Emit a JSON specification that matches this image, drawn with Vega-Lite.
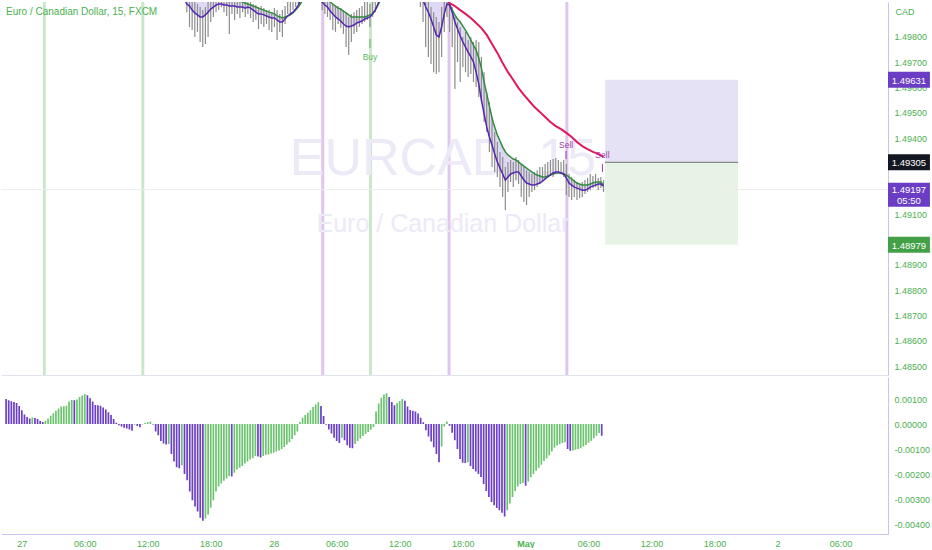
{
  "$schema": "https://vega.github.io/schema/vega-lite/v6.json",
  "padding": 0,
  "background": "white",
  "spacing": 0,
  "config": {"view": {"stroke": null}, "font": "Liberation Sans",
    "axis": {"grid": false, "labelOverlap": false, "labelBound": false, "ticks": false, "labelColor": "#4caf50", "domainColor": "#cbc3ef", "labelFontSize": 9}},
  "datasets": {
    "vlines": [
      {"i": 10.3, "k": "g"}, {"i": 47.4, "k": "g"}, {"i": 133.2, "k": "g"},
      {"i": 115.2, "k": "p"}, {"i": 162.8, "k": "p"}, {"i": 207.2, "k": "p"}
    ],
    "boxes": [
      {"i1": 221.6, "i2": 271.7, "p1": 1.49631, "p2": 1.49305, "k": "p"},
      {"i1": 221.6, "i2": 271.7, "p1": 1.49305, "p2": 1.48979, "k": "g"}
    ],
    "entry": [{"i1": 221.6, "i2": 271.7, "p": 1.49305}],
    "signals": [
      {"i": 133.0, "lab": "Buy", "p": 1.49721, "t1": 1.49792, "t2": 1.49756, "k": "b"},
      {"i": 206.9, "lab": "Sell", "p": 1.49373, "t1": 1.4935, "t2": 1.49318, "k": "s"},
      {"i": 220.6, "lab": "Sell", "p": 1.49334, "t1": 1.49298, "t2": 1.49267, "k": "s"}
    ],
    "tags": [
      {"p": 1.49631, "t": "1.49631", "k": "p"},
      {"p": 1.49305, "t": "1.49305", "k": "b"},
      {"p": 1.48979, "t": "1.48979", "k": "g"}
    ],
    "tag2": [{"p": 1.49197, "t": "1.49197", "t2": "05:50"}],
    "bars": [
      {"i":64,"h":1.49978,"l":1.49898},{"i":65,"h":1.49958,"l":1.49839},{"i":66,"h":1.49958,"l":1.49827},
      {"i":67,"h":1.49938,"l":1.498},{"i":68,"h":1.4993,"l":1.4982},{"i":69,"h":1.49918,"l":1.4978},
      {"i":70,"h":1.49906,"l":1.4976},{"i":71,"h":1.49918,"l":1.49772},{"i":72,"h":1.49946,"l":1.498},
      {"i":73,"h":1.49958,"l":1.49859},{"i":74,"h":1.4997,"l":1.49879},{"i":75,"h":1.4997,"l":1.49898},
      {"i":76,"h":1.49978,"l":1.49906},{"i":77,"h":1.49978,"l":1.49918},{"i":78,"h":1.49962,"l":1.49898},
      {"i":79,"h":1.49958,"l":1.49883},{"i":80,"h":1.49946,"l":1.49812},{"i":81,"h":1.4995,"l":1.49891},
      {"i":82,"h":1.49946,"l":1.49867},{"i":83,"h":1.49954,"l":1.49891},{"i":84,"h":1.49946,"l":1.49875},
      {"i":85,"h":1.49938,"l":1.49898},{"i":86,"h":1.49946,"l":1.49879},{"i":87,"h":1.49938,"l":1.49891},
      {"i":88,"h":1.49938,"l":1.49875},{"i":89,"h":1.4993,"l":1.49859},{"i":90,"h":1.49926,"l":1.49867},
      {"i":91,"h":1.49918,"l":1.49831},{"i":92,"h":1.49922,"l":1.49851},{"i":93,"h":1.49914,"l":1.49839},
      {"i":94,"h":1.49906,"l":1.49851},{"i":95,"h":1.49906,"l":1.49827},{"i":96,"h":1.49898,"l":1.4982},
      {"i":97,"h":1.49914,"l":1.49839},{"i":98,"h":1.49906,"l":1.49788},{"i":99,"h":1.49891,"l":1.4982},
      {"i":100,"h":1.49906,"l":1.498},{"i":101,"h":1.49922,"l":1.49851},{"i":102,"h":1.49938,"l":1.49891},
      {"i":103,"h":1.4995,"l":1.49891},{"i":104,"h":1.49962,"l":1.49906},{"i":105,"h":1.4997,"l":1.49918},
      {"i":106,"h":1.49985,"l":1.4993},
      {"i":115,"h":1.49978,"l":1.49906},{"i":116,"h":1.49958,"l":1.49891},{"i":117,"h":1.49946,"l":1.49879},
      {"i":118,"h":1.49938,"l":1.49867},{"i":119,"h":1.4993,"l":1.49827},{"i":120,"h":1.49918,"l":1.4982},
      {"i":121,"h":1.49922,"l":1.49851},{"i":122,"h":1.49914,"l":1.49835},{"i":123,"h":1.49906,"l":1.49812},
      {"i":124,"h":1.49898,"l":1.4976},{"i":125,"h":1.49879,"l":1.49729},{"i":126,"h":1.49891,"l":1.4978},
      {"i":127,"h":1.49898,"l":1.49812},{"i":128,"h":1.49906,"l":1.4982},{"i":129,"h":1.49914,"l":1.49839},
      {"i":130,"h":1.49922,"l":1.49851},{"i":131,"h":1.49938,"l":1.49859},{"i":132,"h":1.49946,"l":1.49867},
      {"i":133,"h":1.4993,"l":1.49839},{"i":134,"h":1.49958,"l":1.49879},{"i":135,"h":1.49978,"l":1.49898},
      {"i":152,"h":1.49997,"l":1.49918},{"i":153,"h":1.49978,"l":1.49859},{"i":154,"h":1.49958,"l":1.4976},
      {"i":155,"h":1.49938,"l":1.49721},{"i":156,"h":1.49918,"l":1.49693},{"i":157,"h":1.49898,"l":1.49661},
      {"i":158,"h":1.49879,"l":1.49654},{"i":159,"h":1.49859,"l":1.49661},{"i":160,"h":1.49918,"l":1.49721},
      {"i":161,"h":1.49958,"l":1.4982},{"i":162,"h":1.49978,"l":1.49879},{"i":163,"h":1.49958,"l":1.4982},
      {"i":164,"h":1.49918,"l":1.4976},{"i":165,"h":1.49879,"l":1.49594},{"i":166,"h":1.49859,"l":1.49701},
      {"i":167,"h":1.49839,"l":1.49622},{"i":168,"h":1.498,"l":1.49681},{"i":169,"h":1.4982,"l":1.49661},
      {"i":170,"h":1.49788,"l":1.49642},{"i":171,"h":1.498,"l":1.49654},{"i":172,"h":1.4978,"l":1.49622},
      {"i":173,"h":1.49788,"l":1.49602},{"i":174,"h":1.4978,"l":1.49563},{"i":175,"h":1.49721,"l":1.49543},
      {"i":176,"h":1.49661,"l":1.49464},{"i":177,"h":1.49583,"l":1.49425},{"i":178,"h":1.49543,"l":1.49346},
      {"i":179,"h":1.49484,"l":1.49286},{"i":180,"h":1.49425,"l":1.49267},{"i":181,"h":1.49385,"l":1.49247},
      {"i":182,"h":1.49346,"l":1.49207},{"i":183,"h":1.49326,"l":1.49168},{"i":184,"h":1.49286,"l":1.49116},
      {"i":185,"h":1.49306,"l":1.49188},{"i":186,"h":1.49314,"l":1.49227},{"i":187,"h":1.49306,"l":1.49207},
      {"i":188,"h":1.49326,"l":1.49235},{"i":189,"h":1.49314,"l":1.49219},{"i":190,"h":1.49298,"l":1.49168},
      {"i":191,"h":1.49286,"l":1.49148},{"i":192,"h":1.49274,"l":1.49136},{"i":193,"h":1.49267,"l":1.49168},
      {"i":194,"h":1.49259,"l":1.49188},{"i":195,"h":1.49267,"l":1.49195},{"i":196,"h":1.49274,"l":1.49207},
      {"i":197,"h":1.49286,"l":1.49219},{"i":198,"h":1.49286,"l":1.49227},{"i":199,"h":1.49298,"l":1.49235},
      {"i":200,"h":1.49306,"l":1.49247},{"i":201,"h":1.49314,"l":1.49259},{"i":202,"h":1.49318,"l":1.49247},
      {"i":203,"h":1.49322,"l":1.49259},{"i":204,"h":1.49314,"l":1.49267},{"i":205,"h":1.49306,"l":1.49259},
      {"i":206,"h":1.49314,"l":1.49247},{"i":207,"h":1.49298,"l":1.49176},{"i":208,"h":1.49259,"l":1.49168},
      {"i":209,"h":1.49247,"l":1.49156},{"i":210,"h":1.49235,"l":1.49168},{"i":211,"h":1.49227,"l":1.49156},
      {"i":212,"h":1.49219,"l":1.49164},{"i":213,"h":1.49227,"l":1.49168},{"i":214,"h":1.49235,"l":1.4918},
      {"i":215,"h":1.49243,"l":1.49188},{"i":216,"h":1.49259,"l":1.49195},{"i":217,"h":1.49251,"l":1.49203},
      {"i":218,"h":1.49259,"l":1.49207},{"i":219,"h":1.49243,"l":1.49195},{"i":220,"h":1.49247,"l":1.49203},
      {"i":221,"h":1.49235,"l":1.49188}
    ],
    "ma": [
      {"i":60,"f":1.50017,"s":1.50096},{"i":64,"f":1.4993,"s":1.49997},{"i":65,"f":1.49922,"s":1.49993},
      {"i":66,"f":1.49906,"s":1.49985},{"i":67,"f":1.49895,"s":1.49981},{"i":68,"f":1.49887,"s":1.49978},
      {"i":69,"f":1.49879,"s":1.49978},{"i":70,"f":1.49879,"s":1.49974},{"i":71,"f":1.49887,"s":1.49974},
      {"i":72,"f":1.49898,"s":1.49974},{"i":73,"f":1.4991,"s":1.49974},{"i":74,"f":1.49918,"s":1.4997},
      {"i":75,"f":1.49926,"s":1.4997},{"i":76,"f":1.4993,"s":1.49966},{"i":77,"f":1.4993,"s":1.49966},
      {"i":78,"f":1.49926,"s":1.49962},{"i":79,"f":1.49926,"s":1.49962},{"i":80,"f":1.49922,"s":1.49958},
      {"i":81,"f":1.49922,"s":1.49954},{"i":82,"f":1.49922,"s":1.4995},{"i":83,"f":1.49918,"s":1.49946},
      {"i":84,"f":1.49918,"s":1.49942},{"i":85,"f":1.49918,"s":1.49938},{"i":86,"f":1.49914,"s":1.49934},
      {"i":87,"f":1.49918,"s":1.4993},{"i":88,"f":1.49914,"s":1.49926},{"i":89,"f":1.49906,"s":1.49922},
      {"i":90,"f":1.49898,"s":1.49918},{"i":91,"f":1.49891,"s":1.49914},{"i":92,"f":1.49891,"s":1.4991},
      {"i":93,"f":1.49887,"s":1.49906},{"i":94,"f":1.49883,"s":1.49902},{"i":95,"f":1.49879,"s":1.49898},
      {"i":96,"f":1.49875,"s":1.49895},{"i":97,"f":1.49875,"s":1.49891},{"i":98,"f":1.49867,"s":1.49883},
      {"i":99,"f":1.49859,"s":1.49879},{"i":100,"f":1.49859,"s":1.49875},{"i":101,"f":1.49871,"s":1.49879},
      {"i":102,"f":1.49883,"s":1.49883},{"i":103,"f":1.49891,"s":1.49887},{"i":104,"f":1.49898,"s":1.49895},
      {"i":105,"f":1.4991,"s":1.49906},{"i":106,"f":1.49926,"s":1.49918},{"i":107,"f":1.4995,"s":1.49934},
      {"i":108,"f":1.4997,"s":1.4995},{"i":110,"f":1.50017,"s":1.50009},{"i":112,"f":1.4997,"s":1.50017},
      {"i":113,"f":1.49958,"s":1.49997},{"i":114,"f":1.49946,"s":1.49981},{"i":115,"f":1.49938,"s":1.4997},
      {"i":116,"f":1.49926,"s":1.49958},{"i":117,"f":1.49918,"s":1.49946},{"i":118,"f":1.49902,"s":1.49938},
      {"i":119,"f":1.49891,"s":1.4993},{"i":120,"f":1.49879,"s":1.49922},{"i":121,"f":1.49871,"s":1.49914},
      {"i":122,"f":1.49863,"s":1.4991},{"i":123,"f":1.49851,"s":1.49902},{"i":124,"f":1.49843,"s":1.49895},
      {"i":125,"f":1.49839,"s":1.49887},{"i":126,"f":1.49843,"s":1.49879},{"i":127,"f":1.49847,"s":1.49879},
      {"i":128,"f":1.49855,"s":1.49879},{"i":129,"f":1.49859,"s":1.49879},{"i":130,"f":1.49863,"s":1.49879},
      {"i":131,"f":1.49871,"s":1.49879},{"i":132,"f":1.49875,"s":1.49883},{"i":133,"f":1.49879,"s":1.49887},
      {"i":134,"f":1.49891,"s":1.49891},{"i":135,"f":1.49906,"s":1.49906},{"i":136,"f":1.4993,"s":1.49926},
      {"i":137,"f":1.49958,"s":1.49946},{"i":140,"f":1.50057,"s":1.50017},{"i":146,"f":1.50057,"s":1.50096},
      {"i":150,"f":1.50017,"s":1.50076},{"i":152,"f":1.49978,"s":1.50037},{"i":153,"f":1.49946,"s":1.50025},
      {"i":154,"f":1.49918,"s":1.50017},{"i":155,"f":1.49898,"s":1.50009},{"i":156,"f":1.49871,"s":1.49997},
      {"i":157,"f":1.49839,"s":1.49989},{"i":158,"f":1.49808,"s":1.49978,"r":1.50057},{"i":159,"f":1.498,"s":1.4997},
      {"i":160,"f":1.49839,"s":1.49958},{"i":161,"f":1.49891,"s":1.49954,"r":1.4997},{"i":162,"f":1.4993,"s":1.49946},
      {"i":163,"f":1.49926,"s":1.4993,"r":1.49934},{"i":164,"f":1.49898,"s":1.49906},{"i":165,"f":1.49859,"s":1.49887,"r":1.49922},
      {"i":166,"f":1.49831,"s":1.49871},{"i":167,"f":1.49804,"s":1.49859,"r":1.49906},{"i":168,"f":1.4978,"s":1.49843},
      {"i":169,"f":1.4976,"s":1.49827,"r":1.49891},{"i":170,"f":1.4974,"s":1.49808},{"i":171,"f":1.49721,"s":1.49788,"r":1.49875},
      {"i":172,"f":1.49701,"s":1.49768},{"i":173,"f":1.49661,"s":1.49748,"r":1.49855},{"i":174,"f":1.49614,"s":1.49717},
      {"i":175,"f":1.49551,"s":1.49677,"r":1.49835},{"i":176,"f":1.49496,"s":1.49622},{"i":177,"f":1.49444,"s":1.49575,"r":1.49808},
      {"i":178,"f":1.49405,"s":1.49527},{"i":179,"f":1.49373,"s":1.4948,"r":1.49772},{"i":180,"f":1.49338,"s":1.49444},
      {"i":181,"f":1.49306,"s":1.49413,"r":1.49737},{"i":182,"f":1.49282,"s":1.49389},{"i":183,"f":1.49259,"s":1.49365,"r":1.49697},
      {"i":184,"f":1.49235,"s":1.49346},{"i":185,"f":1.49247,"s":1.49334,"r":1.49661},{"i":186,"f":1.49259,"s":1.49326},
      {"i":187,"f":1.49263,"s":1.49318,"r":1.4963},{"i":188,"f":1.49267,"s":1.49314},{"i":189,"f":1.49267,"s":1.49306,"r":1.49598},
      {"i":190,"f":1.49251,"s":1.49298},{"i":191,"f":1.49235,"s":1.4929,"r":1.49571},{"i":192,"f":1.49223,"s":1.49282},
      {"i":193,"f":1.49219,"s":1.49274,"r":1.49547},{"i":194,"f":1.49215,"s":1.49267},{"i":195,"f":1.49215,"s":1.49259,"r":1.49523},
      {"i":196,"f":1.49219,"s":1.49255},{"i":197,"f":1.49223,"s":1.49251,"r":1.49504},{"i":198,"f":1.49231,"s":1.49247},
      {"i":199,"f":1.49239,"s":1.49247,"r":1.49484},{"i":200,"f":1.49247,"s":1.49251},{"i":201,"f":1.49255,"s":1.49255,"r":1.49464},
      {"i":202,"f":1.49263,"s":1.49259},{"i":203,"f":1.49267,"s":1.49263,"r":1.49448},{"i":204,"f":1.49267,"s":1.49263},
      {"i":205,"f":1.49263,"s":1.49263,"r":1.49436},{"i":206,"f":1.49259,"s":1.49259},{"i":207,"f":1.49243,"s":1.49255,"r":1.49421},
      {"i":208,"f":1.49223,"s":1.49247},{"i":209,"f":1.49215,"s":1.49239,"r":1.49405},{"i":210,"f":1.49207,"s":1.49231},
      {"i":211,"f":1.49203,"s":1.49223,"r":1.49385},{"i":212,"f":1.49199,"s":1.49219},{"i":213,"f":1.49195,"s":1.49215,"r":1.49369},
      {"i":214,"f":1.49195,"s":1.49215},{"i":215,"f":1.49199,"s":1.49215,"r":1.49357},{"i":216,"f":1.49207,"s":1.49219},
      {"i":217,"f":1.49211,"s":1.49223,"r":1.49346},{"i":218,"f":1.49215,"s":1.49227},{"i":219,"f":1.49219,"s":1.49227,"r":1.49338},
      {"i":220,"f":1.49219,"s":1.49227},{"i":221,"f":1.49211,"s":1.49215,"r":1.49326}
    ],
    "macd": [
      {"i":-6,"v":0.001,"c":"d"},{"i":-5,"v":0.00095,"c":"d"},{"i":-4,"v":0.00091,"c":"d"},{"i":-3,"v":0.00088,"c":"d"},
      {"i":-2,"v":0.00084,"c":"d"},{"i":-1,"v":0.00072,"c":"d"},{"i":0,"v":0.00055,"c":"d"},{"i":1,"v":0.00038,"c":"d"},
      {"i":2,"v":0.00028,"c":"d"},{"i":3,"v":0.00022,"c":"d"},{"i":4,"v":0.00026,"c":"u"},{"i":5,"v":0.00024,"c":"d"},
      {"i":6,"v":0.0002,"c":"d"},{"i":7,"v":0.00012,"c":"d"},{"i":8,"v":0.00008,"c":"d"},{"i":9,"v":0.00013,"c":"u"},
      {"i":10,"v":0.00022,"c":"u"},{"i":11,"v":0.00033,"c":"u"},{"i":12,"v":0.00043,"c":"u"},{"i":13,"v":0.00053,"c":"u"},
      {"i":14,"v":0.00062,"c":"u"},{"i":15,"v":0.0007,"c":"u"},{"i":16,"v":0.00071,"c":"u"},{"i":17,"v":0.00073,"c":"u"},
      {"i":18,"v":0.0009,"c":"u"},{"i":19,"v":0.00096,"c":"u"},{"i":20,"v":0.00095,"c":"d"},{"i":21,"v":0.00098,"c":"u"},
      {"i":22,"v":0.00108,"c":"u"},{"i":23,"v":0.00114,"c":"u"},{"i":24,"v":0.00119,"c":"u"},{"i":25,"v":0.00115,"c":"d"},
      {"i":26,"v":0.00103,"c":"d"},{"i":27,"v":0.0009,"c":"d"},{"i":28,"v":0.00076,"c":"d"},{"i":29,"v":0.00075,"c":"d"},
      {"i":30,"v":0.00073,"c":"d"},{"i":31,"v":0.00066,"c":"d"},{"i":32,"v":0.00058,"c":"d"},{"i":33,"v":0.00047,"c":"d"},
      {"i":34,"v":0.00036,"c":"d"},{"i":35,"v":0.0002,"c":"d"},{"i":36,"v":0.00005,"c":"d"},{"i":37,"v":-0.00005,"c":"d"},
      {"i":38,"v":-0.0001,"c":"d"},{"i":39,"v":-0.00015,"c":"d"},{"i":40,"v":-0.00018,"c":"d"},{"i":41,"v":-0.00022,"c":"d"},
      {"i":42,"v":-0.00027,"c":"d"},{"i":43,"v":-0.00003,"c":"u"},{"i":44,"v":-0.00008,"c":"d"},{"i":45,"v":-0.00013,"c":"d"},
      {"i":46,"v":-0.00002,"c":"u"},{"i":47,"v":0.00004,"c":"u"},{"i":48,"v":0.00007,"c":"u"},{"i":49,"v":0.0001,"c":"u"},
      {"i":50,"v":-0.00002,"c":"d"},{"i":51,"v":-0.0003,"c":"d"},{"i":52,"v":-0.00045,"c":"d"},{"i":53,"v":-0.00068,"c":"d"},
      {"i":54,"v":-0.00078,"c":"d"},{"i":55,"v":-0.00082,"c":"d"},{"i":56,"v":-0.0008,"c":"u"},{"i":57,"v":-0.0012,"c":"d"},
      {"i":58,"v":-0.0015,"c":"d"},{"i":59,"v":-0.00173,"c":"d"},{"i":60,"v":-0.00177,"c":"d"},{"i":61,"v":-0.00165,"c":"u"},
      {"i":62,"v":-0.002,"c":"d"},{"i":63,"v":-0.00225,"c":"d"},{"i":64,"v":-0.0027,"c":"d"},{"i":65,"v":-0.00305,"c":"d"},
      {"i":66,"v":-0.0033,"c":"d"},{"i":67,"v":-0.0035,"c":"d"},{"i":68,"v":-0.00375,"c":"d"},{"i":69,"v":-0.00387,"c":"d"},
      {"i":70,"v":-0.00378,"c":"u"},{"i":71,"v":-0.00362,"c":"u"},{"i":72,"v":-0.00335,"c":"u"},{"i":73,"v":-0.00305,"c":"u"},
      {"i":74,"v":-0.0027,"c":"u"},{"i":75,"v":-0.0025,"c":"u"},{"i":76,"v":-0.00238,"c":"u"},{"i":77,"v":-0.00227,"c":"u"},
      {"i":78,"v":-0.00218,"c":"u"},{"i":79,"v":-0.00208,"c":"u"},{"i":80,"v":-0.0021,"c":"d"},{"i":81,"v":-0.00195,"c":"u"},
      {"i":82,"v":-0.00182,"c":"u"},{"i":83,"v":-0.00175,"c":"u"},{"i":84,"v":-0.00168,"c":"u"},{"i":85,"v":-0.00158,"c":"u"},
      {"i":86,"v":-0.0015,"c":"u"},{"i":87,"v":-0.00142,"c":"u"},{"i":88,"v":-0.00137,"c":"u"},{"i":89,"v":-0.00128,"c":"u"},
      {"i":90,"v":-0.0013,"c":"d"},{"i":91,"v":-0.00134,"c":"d"},{"i":92,"v":-0.00128,"c":"u"},{"i":93,"v":-0.00123,"c":"u"},
      {"i":94,"v":-0.00122,"c":"u"},{"i":95,"v":-0.00118,"c":"u"},{"i":96,"v":-0.00115,"c":"u"},{"i":97,"v":-0.0011,"c":"u"},
      {"i":98,"v":-0.00106,"c":"u"},{"i":99,"v":-0.001,"c":"u"},{"i":100,"v":-0.00092,"c":"u"},{"i":101,"v":-0.00082,"c":"u"},
      {"i":102,"v":-0.00073,"c":"u"},{"i":103,"v":-0.0006,"c":"u"},{"i":104,"v":-0.00045,"c":"u"},{"i":105,"v":-0.0003,"c":"u"},
      {"i":106,"v":0.00008,"c":"u"},{"i":107,"v":0.00025,"c":"u"},{"i":108,"v":0.00036,"c":"u"},{"i":109,"v":0.00045,"c":"u"},
      {"i":110,"v":0.00055,"c":"u"},{"i":111,"v":0.00068,"c":"u"},{"i":112,"v":0.00078,"c":"u"},{"i":113,"v":0.00087,"c":"u"},
      {"i":114,"v":0.00072,"c":"d"},{"i":115,"v":0.00032,"c":"d"},{"i":116,"v":-0.00003,"c":"d"},{"i":117,"v":-0.00022,"c":"d"},
      {"i":118,"v":-0.00038,"c":"d"},{"i":119,"v":-0.00055,"c":"d"},{"i":120,"v":-0.00068,"c":"d"},{"i":121,"v":-0.00076,"c":"d"},
      {"i":122,"v":-0.00055,"c":"u"},{"i":123,"v":-0.00065,"c":"d"},{"i":124,"v":-0.00085,"c":"d"},{"i":125,"v":-0.00095,"c":"d"},
      {"i":126,"v":-0.00097,"c":"d"},{"i":127,"v":-0.0008,"c":"u"},{"i":128,"v":-0.00068,"c":"u"},{"i":129,"v":-0.00058,"c":"u"},
      {"i":130,"v":-0.00048,"c":"u"},{"i":131,"v":-0.0004,"c":"u"},{"i":132,"v":-0.00032,"c":"u"},{"i":133,"v":-0.00023,"c":"u"},
      {"i":134,"v":-0.00012,"c":"u"},{"i":135,"v":0.0005,"c":"u"},{"i":136,"v":0.00082,"c":"u"},{"i":137,"v":0.00105,"c":"u"},
      {"i":138,"v":0.00118,"c":"u"},{"i":139,"v":0.00123,"c":"u"},{"i":140,"v":0.00108,"c":"d"},{"i":141,"v":0.00088,"c":"d"},
      {"i":142,"v":0.00075,"c":"d"},{"i":143,"v":0.00084,"c":"u"},{"i":144,"v":0.00092,"c":"u"},{"i":145,"v":0.001,"c":"u"},
      {"i":146,"v":0.00093,"c":"d"},{"i":147,"v":0.0007,"c":"d"},{"i":148,"v":0.00056,"c":"d"},{"i":149,"v":0.00053,"c":"d"},
      {"i":150,"v":0.0005,"c":"d"},{"i":151,"v":0.00042,"c":"d"},{"i":152,"v":0.00025,"c":"d"},{"i":153,"v":0.00007,"c":"d"},
      {"i":154,"v":-0.00025,"c":"d"},{"i":155,"v":-0.0005,"c":"d"},{"i":156,"v":-0.0007,"c":"d"},{"i":157,"v":-0.00093,"c":"d"},
      {"i":158,"v":-0.0012,"c":"d"},{"i":159,"v":-0.00153,"c":"d"},{"i":160,"v":-0.0009,"c":"u"},{"i":161,"v":-0.0001,"c":"u"},
      {"i":162,"v":0.0001,"c":"u"},{"i":163,"v":-0.00007,"c":"d"},{"i":164,"v":-0.00035,"c":"d"},{"i":165,"v":-0.00065,"c":"d"},
      {"i":166,"v":-0.001,"c":"d"},{"i":167,"v":-0.0014,"c":"d"},{"i":168,"v":-0.00155,"c":"d"},{"i":169,"v":-0.00156,"c":"d"},
      {"i":170,"v":-0.00153,"c":"u"},{"i":171,"v":-0.00168,"c":"d"},{"i":172,"v":-0.0018,"c":"d"},{"i":173,"v":-0.0019,"c":"d"},
      {"i":174,"v":-0.002,"c":"d"},{"i":175,"v":-0.00212,"c":"d"},{"i":176,"v":-0.0024,"c":"d"},{"i":177,"v":-0.00268,"c":"d"},
      {"i":178,"v":-0.00292,"c":"d"},{"i":179,"v":-0.00312,"c":"d"},{"i":180,"v":-0.00325,"c":"d"},{"i":181,"v":-0.00336,"c":"d"},
      {"i":182,"v":-0.00345,"c":"d"},{"i":183,"v":-0.00355,"c":"d"},{"i":184,"v":-0.0037,"c":"d"},{"i":185,"v":-0.00345,"c":"u"},
      {"i":186,"v":-0.00318,"c":"u"},{"i":187,"v":-0.00292,"c":"u"},{"i":188,"v":-0.00268,"c":"u"},{"i":189,"v":-0.0025,"c":"u"},
      {"i":190,"v":-0.0024,"c":"u"},{"i":191,"v":-0.00236,"c":"u"},{"i":192,"v":-0.00247,"c":"d"},{"i":193,"v":-0.0023,"c":"u"},
      {"i":194,"v":-0.00213,"c":"u"},{"i":195,"v":-0.002,"c":"u"},{"i":196,"v":-0.00187,"c":"u"},{"i":197,"v":-0.00175,"c":"u"},
      {"i":198,"v":-0.00163,"c":"u"},{"i":199,"v":-0.00148,"c":"u"},{"i":200,"v":-0.00138,"c":"u"},{"i":201,"v":-0.00125,"c":"u"},
      {"i":202,"v":-0.0011,"c":"u"},{"i":203,"v":-0.00095,"c":"u"},{"i":204,"v":-0.00086,"c":"u"},{"i":205,"v":-0.0008,"c":"u"},
      {"i":206,"v":-0.00076,"c":"u"},{"i":207,"v":-0.00073,"c":"u"},{"i":208,"v":-0.001,"c":"d"},{"i":209,"v":-0.00107,"c":"d"},
      {"i":210,"v":-0.00106,"c":"u"},{"i":211,"v":-0.00103,"c":"u"},{"i":212,"v":-0.001,"c":"u"},{"i":213,"v":-0.00097,"c":"u"},
      {"i":214,"v":-0.0009,"c":"u"},{"i":215,"v":-0.00084,"c":"u"},{"i":216,"v":-0.00075,"c":"u"},{"i":217,"v":-0.00067,"c":"u"},
      {"i":218,"v":-0.00057,"c":"u"},{"i":219,"v":-0.00047,"c":"u"},{"i":220,"v":-0.00036,"c":"u"},{"i":221,"v":-0.00047,"c":"d"}
    ]
  },
  "vconcat": [
    {
      "width": 887,
      "height": 373,
      "layer": [
        {
          "data": {"name": "vlines"},
          "mark": {"type": "rule", "strokeWidth": 3},
          "encoding": {
            "x": {"field": "i", "type": "quantitative",
              "scale": {"domain": [-6.03, 328.2], "nice": false, "zero": false},
              "axis": {"orient": "bottom", "labels": false, "ticks": false, "domain": true, "domainColor": "#e0e3eb", "title": null, "grid": false, "minExtent": 0}},
            "color": {"condition": {"test": "datum.k == 'g'", "value": "#c9e8c9"}, "value": "#e0c6ee"}
          }
        },
        {
          "data": {"name": "boxes"},
          "mark": {"type": "rect"},
          "encoding": {
            "x": {"field": "i1", "type": "quantitative"},
            "x2": {"field": "i2"},
            "y": {"field": "p1", "type": "quantitative",
              "scale": {"domain": [1.48465, 1.49938], "nice": false, "zero": false},
              "axis": {"orient": "right", "values": [1.485, 1.486, 1.487, 1.488, 1.489, 1.49, 1.491, 1.492, 1.493, 1.494, 1.495, 1.496, 1.497, 1.498],
                "tickCount": 40, "format": ".5f", "labelPadding": 6, "labelOverlap": false,
                "title": "CAD", "titleAngle": 0, "titleAlign": "left", "titleBaseline": "middle", "titleX": 7, "titleY": 9,
                "titleColor": "#4caf50", "titleFontSize": 9, "titleFontWeight": "normal", "zindex": 0}},
            "y2": {"field": "p2"},
            "color": {"condition": {"test": "datum.k == 'p'", "value": "#e6e2f5"}, "value": "#e7f4e5"}
          }
        },
        {
          "data": {"values": [{}]},
          "mark": {"type": "text", "fontSize": 52, "align": "center", "baseline": "middle", "color": "#edeaf8", "font": "Liberation Sans"},
          "encoding": {
            "x": {"datum": 160.5, "type": "quantitative"},
            "y": {"datum": 1.49318, "type": "quantitative"},
            "text": {"value": "EURCAD, 15"}
          }
        },
        {
          "data": {"values": [{}]},
          "mark": {"type": "text", "fontSize": 25, "align": "center", "baseline": "middle", "color": "#edeaf8", "font": "Liberation Sans"},
          "encoding": {
            "x": {"datum": 160.5, "type": "quantitative"},
            "y": {"datum": 1.49061, "type": "quantitative"},
            "text": {"value": "Euro / Canadian Dollar"}
          }
        },
        {
          "data": {"values": [{}]},
          "mark": {"type": "rule", "color": "#ececec", "strokeWidth": 1},
          "encoding": {"y": {"datum": 1.49197, "type": "quantitative"}}
        },
        {
          "data": {"name": "ma"},
          "mark": {"type": "area", "color": "#d8d0f3", "opacity": 0.8, "clip": true},
          "encoding": {
            "x": {"field": "i", "type": "quantitative"},
            "y": {"field": "f", "type": "quantitative"},
            "y2": {"field": "s"}
          }
        },
        {
          "data": {"name": "bars"},
          "mark": {"type": "rule", "color": "#8c8c8c", "strokeWidth": 1.2, "clip": true},
          "encoding": {
            "x": {"field": "i", "type": "quantitative"},
            "y": {"field": "h", "type": "quantitative"},
            "y2": {"field": "l"}
          }
        },
        {
          "data": {"name": "ma"},
          "mark": {"type": "line", "color": "#2f8d3c", "strokeWidth": 1.5, "clip": true},
          "encoding": {
            "x": {"field": "i", "type": "quantitative"},
            "y": {"field": "s", "type": "quantitative"}
          }
        },
        {
          "data": {"name": "ma"},
          "mark": {"type": "line", "color": "#5527b0", "strokeWidth": 1.5, "clip": true},
          "encoding": {
            "x": {"field": "i", "type": "quantitative"},
            "y": {"field": "f", "type": "quantitative"}
          }
        },
        {
          "data": {"name": "ma"},
          "transform": [{"filter": "isValid(datum.r)"}],
          "mark": {"type": "line", "color": "#e2185e", "strokeWidth": 2, "clip": true},
          "encoding": {
            "x": {"field": "i", "type": "quantitative"},
            "y": {"field": "r", "type": "quantitative"}
          }
        },
        {
          "data": {"name": "signals"},
          "mark": {"type": "rule", "strokeWidth": 1},
          "encoding": {
            "x": {"field": "i", "type": "quantitative"},
            "y": {"field": "t1", "type": "quantitative"},
            "y2": {"field": "t2"},
            "color": {"condition": {"test": "datum.k == 'b'", "value": "#5cb85c"}, "value": "#a23aa8"}
          }
        },
        {
          "data": {"name": "signals"},
          "mark": {"type": "text", "fontSize": 8.5, "align": "center", "baseline": "middle"},
          "encoding": {
            "x": {"field": "i", "type": "quantitative"},
            "y": {"field": "p", "type": "quantitative"},
            "text": {"field": "lab"},
            "color": {"condition": {"test": "datum.k == 'b'", "value": "#5cb85c"}, "value": "#a23aa8"}
          }
        },
        {
          "data": {"name": "entry"},
          "mark": {"type": "rule", "color": "#6f6f6f", "strokeWidth": 1},
          "encoding": {
            "x": {"field": "i1", "type": "quantitative"},
            "x2": {"field": "i2"},
            "y": {"field": "p", "type": "quantitative"}
          }
        },
        {
          "data": {"name": "tags"},
          "mark": {"type": "rect", "yOffset": -8, "y2Offset": 8, "clip": false},
          "encoding": {
            "x": {"datum": 328.2, "type": "quantitative"},
            "x2": {"datum": 344.0},
            "y": {"field": "p", "type": "quantitative"},
            "y2": {"field": "p"},
            "color": {"condition": [{"test": "datum.k == 'p'", "value": "#6a3dc4"}, {"test": "datum.k == 'g'", "value": "#43a047"}], "value": "#131722"}
          }
        },
        {
          "data": {"name": "tags"},
          "mark": {"type": "text", "fontSize": 9.5, "align": "center", "baseline": "middle", "color": "white", "dy": 1},
          "encoding": {
            "x": {"datum": 336.1, "type": "quantitative"},
            "y": {"field": "p", "type": "quantitative"},
            "text": {"field": "t"}
          }
        },
        {
          "data": {"name": "tag2"},
          "mark": {"type": "rect", "yOffset": -7, "y2Offset": 17, "color": "#6a3dc4", "clip": false},
          "encoding": {
            "x": {"datum": 328.2, "type": "quantitative"},
            "x2": {"datum": 344.0},
            "y": {"field": "p", "type": "quantitative"},
            "y2": {"field": "p"}
          }
        },
        {
          "data": {"name": "tag2"},
          "mark": {"type": "text", "fontSize": 9.5, "align": "center", "baseline": "middle", "color": "white", "dy": 0},
          "encoding": {
            "x": {"datum": 336.1, "type": "quantitative"},
            "y": {"field": "p", "type": "quantitative"},
            "text": {"field": "t"}
          }
        },
        {
          "data": {"name": "tag2"},
          "mark": {"type": "text", "fontSize": 9.5, "align": "center", "baseline": "middle", "color": "white", "dy": 11},
          "encoding": {
            "x": {"datum": 336.1, "type": "quantitative"},
            "y": {"field": "p", "type": "quantitative"},
            "text": {"field": "t2"}
          }
        },
        {
          "data": {"values": [{}]},
          "mark": {"type": "text", "fontSize": 10, "align": "left", "baseline": "middle", "color": "#4caf50"},
          "encoding": {
            "x": {"datum": -4.14, "type": "quantitative"},
            "y": {"datum": 1.49898, "type": "quantitative"},
            "text": {"value": "Euro / Canadian Dollar, 15, FXCM"}
          }
        }
      ]
    },
    {
      "width": 887,
      "height": 157,
      "data": {"name": "macd"},
      "mark": {"type": "bar", "width": 1.7},
      "encoding": {
        "x": {"field": "i", "type": "quantitative",
          "scale": {"domain": [-6.03, 328.2], "nice": false, "zero": false},
          "axis": {"orient": "bottom", "values": [0, 24, 48, 72, 96, 120, 144, 168, 192, 216, 240, 264, 288, 312],
            "tickCount": 40,
            "labelExpr": "['27','06:00','12:00','18:00','28','06:00','12:00','18:00','May','06:00','12:00','18:00','2','06:00'][round(datum.value/24)]",
            "labelPadding": 5, "labelFlush": false, "labelOverlap": false, "title": null,
            "labelFontWeight": {"condition": {"test": "datum.value == 192", "value": "bold"}, "value": "normal"}}},
        "y": {"field": "v", "type": "quantitative",
          "scale": {"domain": [-0.0044, 0.00188], "nice": false, "zero": false},
          "axis": {"orient": "right", "values": [0.001, 0, -0.001, -0.002, -0.003, -0.004],
            "tickCount": 20,
            "labelExpr": "replace(format(datum.value, '.5f'), '\u2212', '-')",
            "labelPadding": 6, "labelOverlap": false, "title": null}},
        "color": {"condition": {"test": "datum.c == 'u'", "value": "#6cc46f"}, "value": "#6b3fc6"}
      }
    }
  ]
}
